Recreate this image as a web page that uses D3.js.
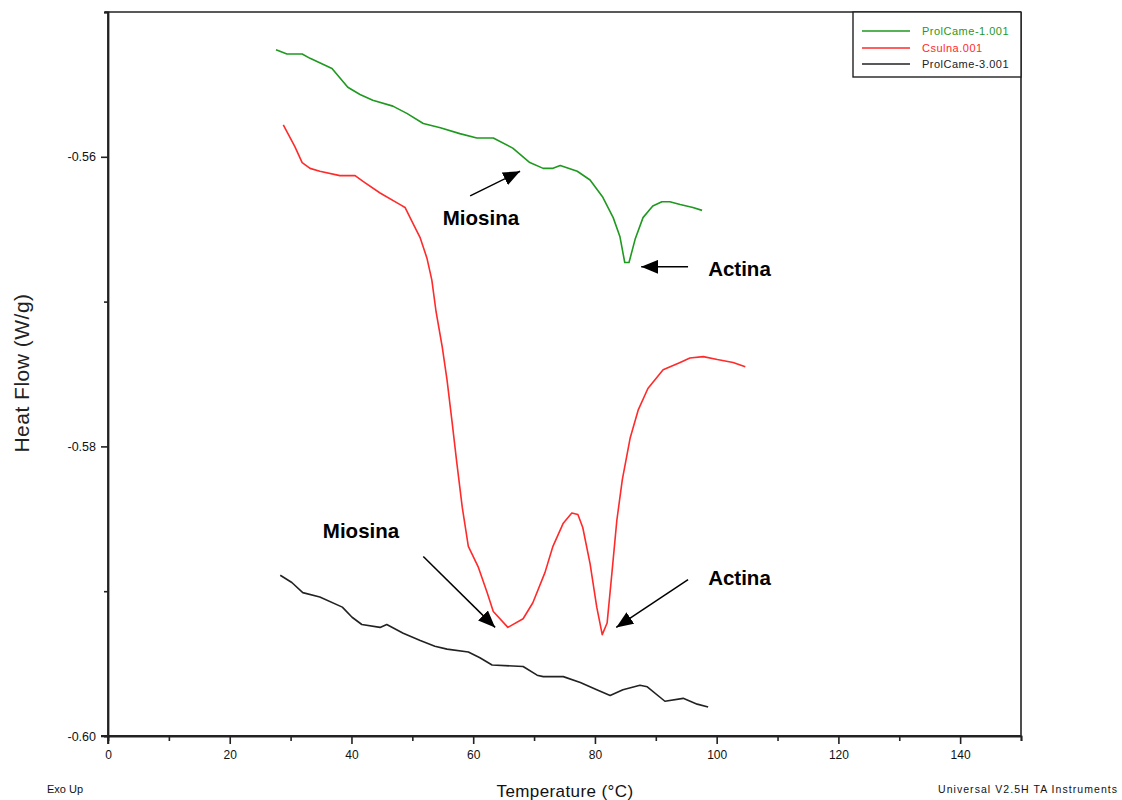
<!DOCTYPE html>
<html>
<head>
<meta charset="utf-8">
<script src="https://cdn.jsdelivr.net/npm/d3@7"></script>
<style>
  html, body { margin: 0; padding: 0; background: #fff; }
  svg { display: block; font-family: "Liberation Sans", Arial, sans-serif; }
</style>
</head>
<body>
<svg id="chart" width="1122" height="800"></svg>
<script>
// DSC thermograms: temperature (°C) vs heat flow (W/g)
const seriesNames = ["ProlCame-1.001", "Csulna.001", "ProlCame-3.001"];
const seriesColors = ["#1f991f", "#ff2a2a", "#222222"];

const tempCame1 = [27.6, 29.4, 31.9, 33.2, 36.8, 39.4, 41.4, 43.5, 46.8, 49.1, 51.8, 54.6, 57.8, 60.6, 63.3, 66.5, 69.3, 71.5, 73.0, 74.3, 77.1, 79.2, 81.3, 83.0, 84.1, 84.9, 85.6, 86.6, 87.9, 89.5, 91.0, 92.3, 94.0, 96.1, 97.6];
const flowCame1 = [-0.5526, -0.5529, -0.5529, -0.5532, -0.5539, -0.5552, -0.5557, -0.5561, -0.5565, -0.5570, -0.5577, -0.5580, -0.5584, -0.5587, -0.5587, -0.5594, -0.5604, -0.5608, -0.5608, -0.5606, -0.5610, -0.5616, -0.5628, -0.5642, -0.5655, -0.5673, -0.5673, -0.5657, -0.5642, -0.5634, -0.5631, -0.5631, -0.5633, -0.5635, -0.5637];

const tempSulna = [28.8, 30.7, 31.9, 33.2, 34.8, 38.1, 40.6, 41.9, 44.7, 48.0, 48.8, 50.1, 51.3, 52.4, 53.2, 53.9, 54.9, 55.7, 56.5, 57.3, 58.2, 59.2, 60.8, 62.3, 63.3, 65.7, 68.2, 69.8, 71.8, 73.1, 74.8, 76.2, 77.2, 78.0, 79.2, 80.3, 81.2, 82.0, 82.8, 83.6, 84.5, 85.8, 87.1, 88.7, 91.2, 94.0, 95.6, 97.8, 100.1, 102.7, 104.7];
const flowSulna = [-0.5578, -0.5593, -0.5604, -0.5608, -0.5610, -0.5613, -0.5613, -0.5617, -0.5625, -0.5633, -0.5635, -0.5646, -0.5656, -0.5670, -0.5685, -0.5707, -0.5731, -0.5754, -0.5782, -0.5811, -0.5842, -0.5869, -0.5883, -0.5901, -0.5914, -0.5925, -0.5919, -0.5908, -0.5887, -0.5869, -0.5853, -0.5846, -0.5847, -0.5856, -0.5881, -0.5911, -0.5930, -0.5922, -0.5887, -0.5851, -0.5823, -0.5794, -0.5775, -0.5760, -0.5747, -0.5742, -0.5739, -0.5738, -0.5740, -0.5742, -0.5745];

const tempCame3 = [28.3, 30.2, 32.0, 34.8, 38.5, 40.1, 41.7, 44.7, 45.8, 48.5, 51.3, 53.7, 55.7, 59.2, 61.1, 63.1, 68.2, 70.5, 71.5, 74.8, 77.6, 80.3, 82.5, 84.6, 87.4, 88.6, 91.5, 94.5, 96.8, 98.6];
const flowCame3 = [-0.5889, -0.5894, -0.5901, -0.5904, -0.5911, -0.5918, -0.5923, -0.5925, -0.5923, -0.5929, -0.5934, -0.5938, -0.5940, -0.5942, -0.5946, -0.5951, -0.5952, -0.5958, -0.5959, -0.5959, -0.5963, -0.5968, -0.5972, -0.5968, -0.5965, -0.5966, -0.5976, -0.5974, -0.5978, -0.5980];

// Axis ticks
const xMajorTicks = [0, 20, 40, 60, 80, 100, 120, 140];
const xMinorTicks = [10, 30, 50, 70, 90, 110, 130, 150];
const yMajorTicks = [-0.60, -0.58, -0.56];
const yMajorLabels = ["-0.60", "-0.58", "-0.56"];
const yMinorTicks = [-0.59, -0.57, -0.55];

// Peak annotations: label position and arrow (tail -> head), in data units
const annoLabels = ["Miosina", "Actina", "Miosina", "Actina"];
const annoTextX = [55.0, 98.6, 35.3, 98.6];
const annoTextY = [-0.5647, -0.5682, -0.5863, -0.5896];
const arrowFromX = [59.5, 95.3, 51.8, 95.3];
const arrowFromY = [-0.5627, -0.5676, -0.5876, -0.5892];
const arrowToX = [67.7, 87.6, 63.6, 83.5];
const arrowToY = [-0.5610, -0.5676, -0.5925, -0.5925];

const svg = d3.select("#chart");
const x = d3.scaleLinear().domain([0, 150]).range([108, 1021]);
const y = d3.scaleLinear().domain([-0.60, -0.55]).range([736, 12]);
const axisColor = "#222";

// Frame (top and right edges)
svg.append("line").attr("x1", x(0) - 3).attr("x2", x(150)).attr("y1", y(-0.55)).attr("y2", y(-0.55))
  .attr("stroke", axisColor).attr("stroke-width", 1.6);
svg.append("line").attr("x1", x(150)).attr("x2", x(150)).attr("y1", y(-0.55)).attr("y2", y(-0.60))
  .attr("stroke", axisColor).attr("stroke-width", 1.6);

function styleAxis(g) {
  g.select(".domain").attr("stroke", axisColor).attr("stroke-width", 1.8);
  g.selectAll(".tick line").attr("stroke", axisColor).attr("stroke-width", 1.6);
  g.selectAll(".tick text").attr("fill", "#111").style("font-family", "'Liberation Sans', Arial, sans-serif");
}

// X axis
const gxMinor = svg.append("g").attr("transform", `translate(0,${y(-0.60)})`)
  .call(d3.axisBottom(x).tickValues(xMinorTicks).tickSize(5).tickFormat(""));
styleAxis(gxMinor);
const gx = svg.append("g").attr("transform", `translate(0,${y(-0.60)})`)
  .call(d3.axisBottom(x).tickValues(xMajorTicks).tickSize(8).tickPadding(6).tickFormat(d3.format("d")).tickSizeOuter(0));
styleAxis(gx);
gx.selectAll(".tick text").style("font-size", "12px");
gx.select(".domain").attr("d", `M${x(0) - 7},0H${x(150)}`);

// Y axis
const gyMinor = svg.append("g").attr("transform", `translate(${x(0)},0)`)
  .call(d3.axisLeft(y).tickValues(yMinorTicks).tickSize(4).tickFormat(""));
styleAxis(gyMinor);
const gy = svg.append("g").attr("transform", `translate(${x(0)},0)`)
  .call(d3.axisLeft(y).tickValues(yMajorTicks).tickSize(7).tickPadding(5)
    .tickFormat((d, i) => yMajorLabels[i]).tickSizeOuter(0));
styleAxis(gy);
gy.selectAll(".tick text").style("font-size", "12.5px");
gy.select(".domain").attr("d", `M0,${y(-0.55)}V${y(-0.60) + 8}`);

// Axis titles
svg.append("text").attr("x", 565).attr("y", 797).attr("text-anchor", "middle")
  .style("font-size", "17px").attr("fill", "#111").style("letter-spacing", "0.4px")
  .text("Temperature (°C)");
svg.append("text").attr("transform", `translate(29,373) rotate(-90)`).attr("text-anchor", "middle")
  .style("font-size", "21px").attr("fill", "#222").style("letter-spacing", "0.5px")
  .text("Heat Flow (W/g)");

// Footer labels
svg.append("text").attr("x", 47).attr("y", 793).style("font-size", "11px").attr("fill", "#111")
  .text("Exo Up");
svg.append("text").attr("x", 1117).attr("y", 793).attr("text-anchor", "end").style("font-size", "10.5px")
  .attr("fill", "#111").attr("textLength", 179).attr("lengthAdjust", "spacing")
  .text("Universal V2.5H TA Instruments");

// Curves
const line = d3.line().x(d => x(d[0])).y(d => y(d[1]));
const series = [
  d3.zip(tempCame1, flowCame1),
  d3.zip(tempSulna, flowSulna),
  d3.zip(tempCame3, flowCame3)
];
svg.append("g").selectAll("path").data(series).join("path")
  .attr("d", line)
  .attr("fill", "none")
  .attr("stroke", (d, i) => seriesColors[i])
  .attr("stroke-width", 1.6)
  .attr("stroke-linejoin", "round");

// Legend
const legend = svg.append("g");
legend.append("rect").attr("x", 853).attr("y", y(-0.55)).attr("width", x(150) - 853).attr("height", 65)
  .attr("fill", "#fff").attr("stroke", axisColor).attr("stroke-width", 1.4);
const legendRows = [31, 48, 64];
seriesNames.forEach((name, i) => {
  legend.append("line").attr("x1", 862).attr("x2", 910).attr("y1", legendRows[i]).attr("y2", legendRows[i])
    .attr("stroke", seriesColors[i]).attr("stroke-width", 1.6);
  legend.append("text").attr("x", 922).attr("y", legendRows[i] + 4).style("font-size", "11px")
    .style("letter-spacing", "0.5px").attr("fill", seriesColors[i]).text(name);
});

// Annotations
const defs = svg.append("defs");
defs.append("marker").attr("id", "arrowhead").attr("markerUnits", "userSpaceOnUse")
  .attr("markerWidth", 18).attr("markerHeight", 14).attr("refX", 17).attr("refY", 7)
  .attr("orient", "auto")
  .append("path").attr("d", "M0,0 L17,7 L0,14 Z").attr("fill", "#000");

const anno = svg.append("g");
annoLabels.forEach((label, i) => {
  anno.append("line")
    .attr("x1", x(arrowFromX[i])).attr("y1", y(arrowFromY[i]))
    .attr("x2", x(arrowToX[i])).attr("y2", y(arrowToY[i]))
    .attr("stroke", "#000").attr("stroke-width", 1.5)
    .attr("marker-end", "url(#arrowhead)");
  anno.append("text").attr("x", x(annoTextX[i])).attr("y", y(annoTextY[i]))
    .style("font-size", "20.5px").style("font-weight", "bold").attr("fill", "#000")
    .text(label);
});
</script>
</body>
</html>
